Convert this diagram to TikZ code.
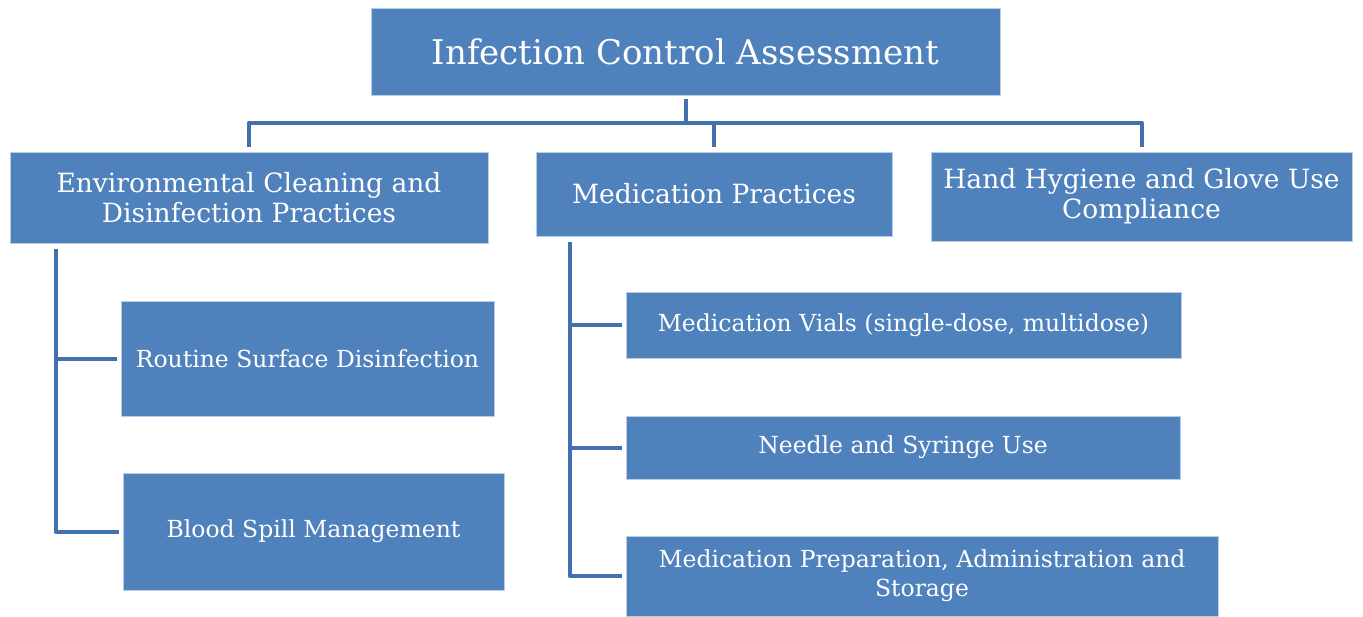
\documentclass[tikz,border=0pt]{standalone}
\usepackage{fontspec}
\setmainfont{DejaVu Serif}
\usetikzlibrary{calc}
\definecolor{boxblue}{HTML}{4F81BD}
\definecolor{lineblue}{HTML}{4271AD}
\tikzset{
  box/.style={rectangle, fill=boxblue, draw=boxblue!40!white, line width=0.8pt, text=white, align=center, inner sep=2pt},
  lvltop/.style={box, font=\fontsize{34}{38}\selectfont},
  lvlone/.style={box, font=\fontsize{26.5}{30}\selectfont},
  lvltwo/.style={box, font=\fontsize{23.5}{29}\selectfont},
  conn/.style={draw=lineblue, line width=4pt, line join=round}
}
\begin{document}
\begin{tikzpicture}[x=1pt,y=-1pt]
\useasboundingbox (0,0) rectangle (1363,616);
\node[lvltop, minimum width=629pt, minimum height=87pt] (top) at (685.5,51.5) {Infection Control Assessment};
\node[lvlone, minimum width=478pt, minimum height=91pt] (env) at (249,197.5) {Environmental Cleaning and\\Disinfection Practices};
\node[lvlone, minimum width=356pt, minimum height=84pt] (med) at (714,194) {Medication Practices};
\node[lvlone, minimum width=421pt, minimum height=89pt] (hand) at (1141.5,196.5) {Hand Hygiene and Glove Use\\Compliance};
\node[lvltwo, minimum width=373pt, minimum height=115pt] (routine) at (307.5,358.5) {Routine Surface Disinfection};
\node[lvltwo, minimum width=381pt, minimum height=117pt] (blood) at (313.5,531.5) {Blood Spill Management};
\node[lvltwo, minimum width=555pt, minimum height=66pt] (vials) at (903.5,325) {Medication Vials (single-dose, multidose)};
\node[lvltwo, minimum width=554pt, minimum height=63pt] (needle) at (903,447.5) {Needle and Syringe Use};
\node[lvltwo, minimum width=592pt, minimum height=80pt] (prep) at (922,576) {Medication Preparation, Administration and\\Storage};
% top-level bus
\draw[conn] ($(top.south)+(0,4)$) -- ($(top.south)+(0,27)$);
\draw[conn] ($(env.north)+(0,-5)$) |- ($(hand.north)+(0,-29)$) -- ($(hand.north)+(0,-5)$);
\draw[conn] ($(med.north)+(0,-5)$) -- ($(med.north)+(0,-29)$);
% environmental branch
\draw[conn] ($(env.south west)+(46,6)$) |- ($(routine.west)+(-4,0)$);
\draw[conn] ($(env.south west)+(46,6)$) |- ($(blood.west)+(-4,0)$);
% medication branch
\draw[conn] ($(med.south west)+(34,6)$) |- ($(vials.west)+(-4,0)$);
\draw[conn] ($(med.south west)+(34,6)$) |- ($(needle.west)+(-4,0)$);
\draw[conn] ($(med.south west)+(34,6)$) |- ($(prep.west)+(-4,0)$);
\end{tikzpicture}
\end{document}
